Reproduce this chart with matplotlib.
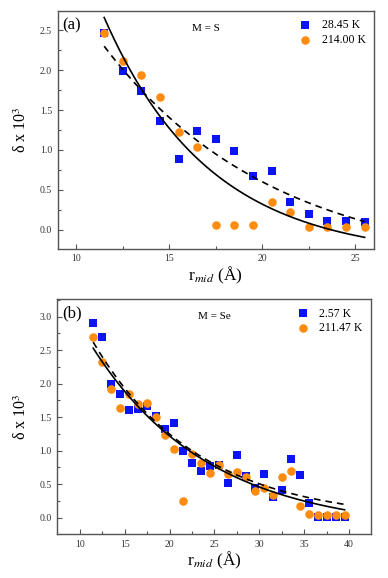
import numpy as np
import matplotlib
matplotlib.use("Agg")
import matplotlib.pyplot as plt
from matplotlib.ticker import MultipleLocator, FormatStrFormatter

plt.rcParams['font.family'] = ['Liberation Serif', 'DejaVu Serif']
plt.rcParams['mathtext.fontset'] = 'stix'

# ---- panel (a): M = S ----
r_a = [11.5, 12.5, 13.5, 14.5, 15.5, 16.5, 17.5, 18.5, 19.5, 20.5,
       21.5, 22.5, 23.5, 24.5, 25.5]
low_a = [2.47, 1.99, 1.74, 1.36, 0.88, 1.24, 1.14, 0.99, 0.67, 0.74,
         0.34, 0.20, 0.105, 0.105, 0.09]
high_a = [2.46, 2.12, 1.94, 1.66, 1.23, 1.04, 0.06, 0.06, 0.06, 0.34,
          0.22, 0.03, 0.03, 0.03, 0.03]
labels_a = ['28.45 K', '214.00 K']
# exponential fits: y0 + A*exp(-k*(r - r0))
fit_solid_a = dict(y0=-0.35, A=3.01, k=0.177, r0=11.5)
fit_dash_a = dict(y0=-0.50, A=2.80, k=0.110, r0=11.5)

# ---- panel (b): M = Se ----
r_b = [11.5, 12.5, 13.5, 14.5, 15.5, 16.5, 17.5, 18.5, 19.5, 20.5,
       21.5, 22.5, 23.5, 24.5, 25.5, 26.5, 27.5, 28.5, 29.5, 30.5,
       31.5, 32.5, 33.5, 34.5, 35.5, 36.5, 37.5, 38.5, 39.5]
low_b = [2.90, 2.69, 1.99, 1.85, 1.61, 1.62, 1.67, 1.51, 1.32, 1.41,
         0.99, 0.82, 0.69, 0.77, 0.79, 0.51, 0.93, 0.62, 0.44, 0.65,
         0.30, 0.41, 0.88, 0.63, 0.22, 0.015, 0.015, 0.015, 0.015]
high_b = [2.70, 2.32, 1.92, 1.64, 1.84, 1.70, 1.71, 1.50, 1.24, 1.03,
          0.25, 0.95, 0.82, 0.67, 0.79, 0.65, 0.68, 0.60, 0.39, 0.44,
          0.33, 0.61, 0.69, 0.17, 0.05, 0.04, 0.04, 0.04, 0.04]
labels_b = ['2.57 K', '211.47 K']
fit_solid_b = dict(y0=-0.20, A=2.73, k=0.077, r0=11.5)
fit_dash_b = dict(y0=-0.05, A=2.67, k=0.085, r0=11.5)

blue = '#0a14f5'
orange = '#ff8c10'
spine_col = '#555555'


def fit_curve(r, p):
    return p['y0'] + p['A'] * np.exp(-p['k'] * (r - p['r0']))


def panel(ax, r, low, high, labels, fs, fd, tag, mlabel, mx,
          xlim, ylim, xmaj, ymaj):
    ax.scatter(r, low, marker='s', s=30, color=blue, label=labels[0],
               zorder=2, linewidths=0)
    ax.scatter(r, high, marker='o', s=38, color=orange, label=labels[1],
               zorder=2, linewidths=0)
    rr = np.linspace(min(r), max(r), 200)
    ax.plot(rr, fit_curve(rr, fs), color='black', lw=1.2, zorder=3)
    ax.plot(rr, fit_curve(rr, fd), color='black', lw=1.2, ls=(0, (4, 3)),
            zorder=3)
    ax.set_xlim(*xlim)
    ax.set_ylim(*ylim)
    ax.xaxis.set_major_locator(MultipleLocator(xmaj))
    ax.xaxis.set_minor_locator(MultipleLocator(xmaj / 2))
    ax.yaxis.set_major_locator(MultipleLocator(ymaj))
    ax.yaxis.set_minor_locator(MultipleLocator(ymaj / 2))
    ax.yaxis.set_major_formatter(FormatStrFormatter('%.1f'))
    ax.tick_params(which='both', direction='in', labelsize=7,
                   colors=spine_col, labelcolor='#333333', width=0.8)
    ax.tick_params(which='major', length=3.5, pad=4)
    ax.tick_params(which='minor', length=2)
    for s in ax.spines.values():
        s.set_color(spine_col)
        s.set_linewidth(1.0)
    ax.set_xlabel(r'r$_{mid}$ (Å)', fontsize=12.5, labelpad=1)
    ax.set_ylabel(r'δ x 10$^3$', fontsize=11.5, labelpad=7)
    ax.text(0.015, 0.975, tag, transform=ax.transAxes, fontsize=12,
            va='top', ha='left')
    ax.text(mx, 0.925, mlabel, transform=ax.transAxes, fontsize=8,
            va='center', ha='center')
    ax.legend(loc='upper right', frameon=False, fontsize=8.5,
              handletextpad=0.8, borderaxespad=0.3, labelspacing=0.2,
              handlelength=1.2, scatterpoints=1)


fig = plt.figure(figsize=(3.88, 5.78), dpi=100)
ax1 = fig.add_axes([0.1487, 0.5697, 0.815, 0.411])
ax2 = fig.add_axes([0.1477, 0.0756, 0.8085, 0.4066])

panel(ax1, r_a, low_a, high_a, labels_a, fit_solid_a, fit_dash_a,
      '(a)', 'M = S', 0.47, (9.0, 26.0), (-0.24, 2.74), 5, 0.5)
panel(ax2, r_b, low_b, high_b, labels_b, fit_solid_b, fit_dash_b,
      '(b)', 'M = Se', 0.50, (7.5, 42.45), (-0.25, 3.26), 5, 0.5)

fig.savefig('out.png', dpi=100)
